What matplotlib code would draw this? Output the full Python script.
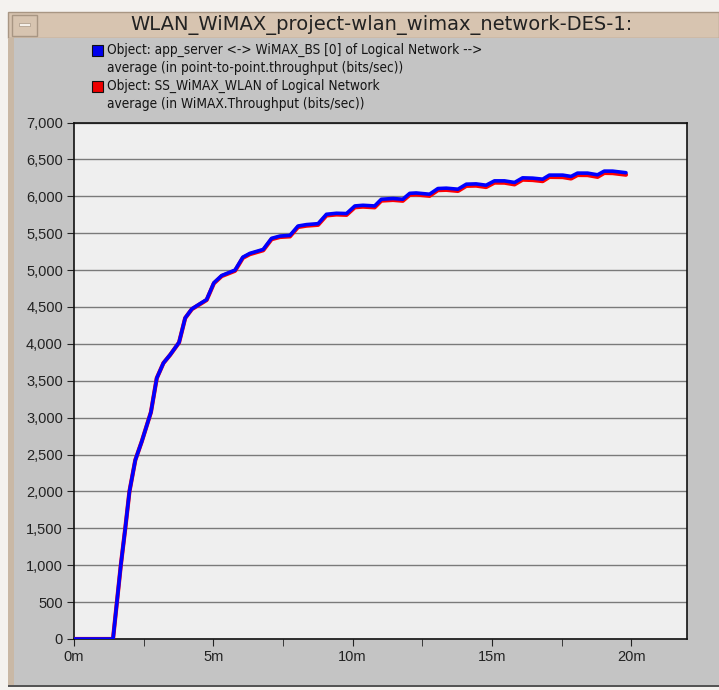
import matplotlib
matplotlib.use("Agg")
import matplotlib.pyplot as plt
from matplotlib.patches import Rectangle
from matplotlib.ticker import FuncFormatter, MultipleLocator

# time in minutes, throughput in bits/sec
minutes = [0, 1.40, 1.54, 1.68, 1.84, 1.99, 2.20, 2.43, 2.76, 2.97, 3.21, 3.45,
           3.77, 3.99, 4.23, 4.76, 5.02, 5.30, 5.78, 6.06, 6.31, 6.79, 7.09,
           7.39, 7.75, 8.04, 8.34, 8.76, 9.06, 9.42, 9.78, 10.08, 10.37, 10.79,
           11.03, 11.45, 11.80, 12.05, 12.28, 12.76, 13.06, 13.36, 13.78, 14.08,
           14.43, 14.79, 15.09, 15.45, 15.81, 16.10, 16.46, 16.82, 17.06, 17.54,
           17.84, 18.07, 18.43, 18.79, 19.03, 19.33, 19.81]
p2p_thru   = [0, 0, 500, 1000, 1500, 2000, 2425, 2675, 3073, 3535, 3740, 3852,
              4020, 4351, 4474, 4600, 4827, 4926, 5000, 5175, 5226, 5280, 5430,
              5461, 5470, 5597, 5616, 5629, 5756, 5770, 5766, 5869, 5878, 5869,
              5960, 5970, 5960, 6040, 6045, 6028, 6105, 6110, 6096, 6164,
              6168, 6150, 6209, 6209, 6187, 6250, 6246, 6232, 6287, 6287,
              6269, 6314, 6314, 6291, 6341, 6341, 6319]
wimax_thru = [0, 0, 500, 1000, 1500, 2000, 2425, 2675, 3073, 3535, 3740, 3850,
              4018, 4349, 4470, 4594, 4820, 4918, 4990, 5165, 5215, 5268, 5418,
              5448, 5456, 5583, 5601, 5613, 5740, 5753, 5748, 5851, 5859, 5850,
              5941, 5950, 5939, 6020, 6024, 6006, 6083, 6087, 6072, 6141,
              6144, 6125, 6185, 6184, 6161, 6225, 6220, 6205, 6262, 6260,
              6241, 6288, 6287, 6263, 6316, 6314, 6292]

legend_lines = ["Object: app_server <-> WiMAX_BS [0] of Logical Network -->",
                "average (in point-to-point.throughput (bits/sec))",
                "Object: SS_WiMAX_WLAN of Logical Network",
                "average (in WiMAX.Throughput (bits/sec))"]
title_text = "WLAN_WiMAX_project-wlan_wimax_network-DES-1:"

W, H = 719, 690
fig = plt.figure(figsize=(W / 100, H / 100), dpi=100)
fig.patch.set_facecolor("#f4f2ef")

def px_rect(x, y, w, h, z=-5, **kw):
    # rectangle given in pixels from the top left corner
    r = Rectangle((x / W, 1 - (y + h) / H), w / W, h / H,
                  transform=fig.transFigure, zorder=z, **kw)
    fig.add_artist(r)

# window frame
px_rect(8, 12, 711, 26, facecolor="#d7c4b0", edgecolor="#a89683", lw=1)
px_rect(12, 15, 25, 21, facecolor="#d7c4b0", edgecolor="#a89683", lw=1)
px_rect(19, 23, 11, 3, facecolor="#f4efe9", edgecolor="#a89683", lw=0.5)
px_rect(8, 38, 711, 648, facecolor="#c9b8a5", edgecolor="none")
px_rect(14, 38, 705, 647, facecolor="#c4c4c4", edgecolor="none")
px_rect(8, 685, 711, 2, facecolor="#555555", edgecolor="none")

fig.text(381 / W, 1 - 25 / H, title_text, ha="center", va="center",
         fontsize=14, color="#222222", family=["DejaVu Sans"])

# legend
for i, line in enumerate(legend_lines):
    fig.text(107 / W, 1 - (50 + 18 * i) / H, line, ha="left", va="center",
             fontsize=9.8, color="#151515", fontstretch="condensed",
             family=["Liberation Sans Narrow", "DejaVu Sans"])
px_rect(92, 45, 11, 11, z=5, facecolor="#0000ee", edgecolor="#111111", lw=0.8)
px_rect(92, 81, 11, 11, z=5, facecolor="#ee0000", edgecolor="#111111", lw=0.8)

ax = fig.add_axes([74 / W, 1 - 639 / H, 613 / W, 516.5 / H])
ax.set_facecolor("#efefef")
ax.plot(minutes, wimax_thru, color="#ff0000", lw=3, solid_joinstyle="round",
        solid_capstyle="round", zorder=3)
ax.plot(minutes, p2p_thru, color="#0000ff", lw=2.6, solid_joinstyle="round",
        solid_capstyle="round", zorder=4)

ax.set_xlim(0, 22)
ax.set_ylim(0, 7000)
ax.xaxis.set_major_locator(MultipleLocator(5))
ax.xaxis.set_minor_locator(MultipleLocator(2.5))
ax.yaxis.set_major_locator(MultipleLocator(500))
ax.xaxis.set_major_formatter(FuncFormatter(lambda v, p: "%dm" % v))
ax.yaxis.set_major_formatter(FuncFormatter(lambda v, p: "{:,.0f}".format(v)))
ax.grid(axis="y", color="#7a7a7a", lw=1)
ax.set_axisbelow(True)
for s in ax.spines.values():
    s.set_color("#111111")
    s.set_linewidth(1.2)
ax.tick_params(axis="both", which="both", direction="out", length=5,
               color="#222222", labelsize=10.5, labelcolor="#222222", pad=3)
ax.tick_params(axis="x", which="minor", length=5)
for lab in ax.get_xticklabels() + ax.get_yticklabels():
    lab.set_family(["Liberation Sans", "DejaVu Sans"])

fig.savefig("out.png", dpi=100, facecolor=fig.get_facecolor())
